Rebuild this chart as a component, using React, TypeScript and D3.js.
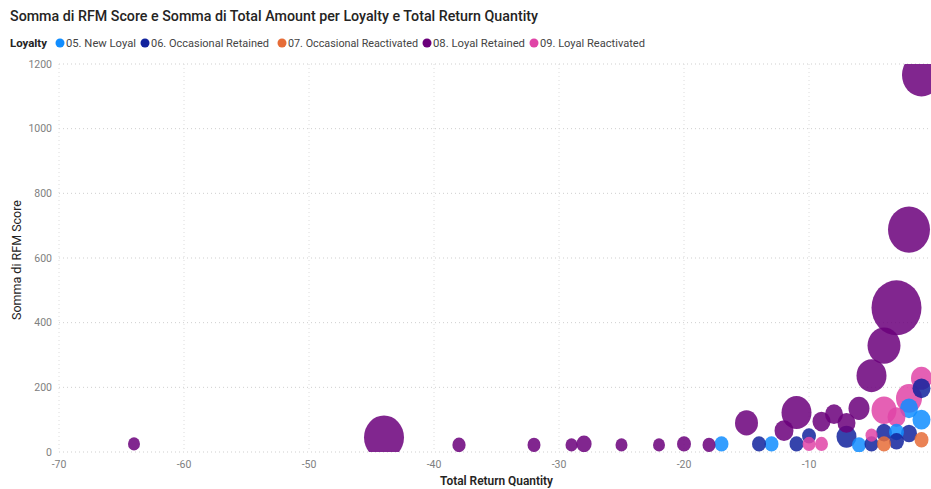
import React from "react";
import * as d3 from "d3";

const W = 931;
const H = 489;

const seriesNames = [
  "05. New Loyal",
  "06. Occasional Retained",
  "07. Occasional Reactivated",
  "08. Loyal Retained",
  "09. Loyal Reactivated",
];
const seriesColors = ["#118DFF", "#12239E", "#E66C37", "#6B007B", "#E044A7"];

// Total Return Quantity / Somma di RFM Score / Somma di Total Amount
const newLoyalX = [-17, -13, -6, -3, -2, -1];
const newLoyalY = [25, 25, 22, 62, 135, 100];
const newLoyalAmt = [4900, 4900, 4900, 5600, 8100, 8100];

const occRetainedX = [-14, -11, -10, -7, -5, -4, -3, -2, -1];
const occRetainedY = [25, 25, 50, 47, 25, 60, 33, 57, 197];
const occRetainedAmt = [4900, 4900, 4900, 10000, 4900, 6400, 5600, 6400, 8100];

const occReactX = [-4, -1];
const occReactY = [25, 38];
const occReactAmt = [4900, 4900];

const loyalRetX = [-64, -44, -38, -32, -29, -28, -25, -22, -20, -18, -15, -12, -11, -9, -8, -7, -6, -5, -4, -3, -2, -1];
const loyalRetY = [25, 45, 22, 22, 22, 25, 22, 22, 25, 22, 90, 66, 122, 94, 117, 90, 135, 236, 329, 446, 688, 1166];
const loyalRetAmt = [3600, 40000, 4400, 4200, 3600, 5800, 3600, 3600, 4900, 4200, 13200, 9000, 22500, 8100, 8100, 8100, 11000, 22500, 27200, 62500, 44100, 38000];

const loyalReactX = [-10, -9, -5, -4, -3, -2, -1];
const loyalReactY = [25, 25, 52, 129, 108, 166, 228];
const loyalReactAmt = [4200, 4200, 3600, 15600, 8100, 16900, 11000];

const xTicks = [-70, -60, -50, -40, -30, -20, -10];
const yTicks = [0, 200, 400, 600, 800, 1000, 1200];

const title = "Somma di RFM Score e Somma di Total Amount per Loyalty e Total Return Quantity";
const legendTitle = "Loyalty";
const xTitle = "Total Return Quantity";
const yTitle = "Somma di RFM Score";

const legendDotX = [60, 145, 282, 427, 534];
const legendTextW = [70, 118, 130, 92, 105];

export default function App() {
  const plot = { left: 59, right: 934, top: 64, bottom: 452 };
  const x = d3.scaleLinear().domain([-70, 0]).range([plot.left, plot.right]);
  const y = d3.scaleLinear().domain([0, 1200]).range([plot.bottom, plot.top]);
  const r = d3.scaleSqrt().domain([0, 62500]).range([0, 25]);

  const raw = [
    [newLoyalX, newLoyalY, newLoyalAmt],
    [occRetainedX, occRetainedY, occRetainedAmt],
    [occReactX, occReactY, occReactAmt],
    [loyalRetX, loyalRetY, loyalRetAmt],
    [loyalReactX, loyalReactY, loyalReactAmt],
  ];
  const points: { s: number; x: number; y: number; a: number }[] = [];
  raw.forEach((arr, s) => {
    arr[0].forEach((xv, i) => points.push({ s, x: xv, y: arr[1][i], a: arr[2][i] }));
  });
  points.sort((p, q) => q.a - p.a);

  const font = "Roboto, 'Open Sans', sans-serif";

  return (
    <div style={{ width: W, height: H }}>
      <style>{`body{margin:0}`}</style>
      <svg width={W} height={H} style={{ display: "block", background: "#fff" }} fontFamily={font}>
        <defs>
          <clipPath id="plotclip">
            <rect x={plot.left} y={plot.top} width={plot.right - plot.left} height={plot.bottom - plot.top} />
          </clipPath>
        </defs>
        <text x={10} y={21} fontSize={14.5} fontWeight={500} fill="#252423" textLength={528} lengthAdjust="spacingAndGlyphs">
          {title}
        </text>
        <text x={10} y={47} fontSize={11.5} fontWeight="bold" fill="#252423" textLength={37} lengthAdjust="spacingAndGlyphs">
          {legendTitle}
        </text>
        {seriesNames.map((n, i) => (
          <g key={n}>
            <circle cx={legendDotX[i]} cy={43} r={4.5} fill={seriesColors[i]} />
            <text x={legendDotX[i] + 6} y={47} fontSize={11.5} fill="#444" textLength={legendTextW[i]} lengthAdjust="spacingAndGlyphs">
              {n}
            </text>
          </g>
        ))}

        {yTicks.map((t) => (
          <g key={"y" + t}>
            <line x1={plot.left} x2={W} y1={y(t)} y2={y(t)} stroke="#cfcfcf" strokeDasharray="1 3" />
            <text x={52} y={y(t)} dy="0.35em" textAnchor="end" fontSize={10.5} fill="#808080">
              {t}
            </text>
          </g>
        ))}
        {xTicks.map((t) => (
          <g key={"x" + t}>
            <line x1={x(t)} x2={x(t)} y1={plot.top} y2={plot.bottom} stroke="#dcdcdc" strokeDasharray="1 3" />
            <text x={x(t)} y={468} textAnchor="middle" fontSize={10.5} fill="#808080">
              {t}
            </text>
          </g>
        ))}

        <g clipPath="url(#plotclip)">
          {points.map((p, i) => (
            <ellipse
              key={i}
              cx={x(p.x)}
              cy={y(p.y)}
              rx={r(p.a)}
              ry={r(p.a) * 1.1}
              fill={seriesColors[p.s]}
              fillOpacity={0.85}
            />
          ))}
        </g>

        <text x={(plot.left + plot.right) / 2} y={485} textAnchor="middle" fontSize={12} fontWeight={600} fill="#252423" textLength={113} lengthAdjust="spacingAndGlyphs">
          {xTitle}
        </text>
        <text
          transform={`translate(21, ${(plot.top + plot.bottom) / 2 + 2}) rotate(-90)`}
          textAnchor="middle"
          fontSize={12}
          fill="#252423"
          textLength={120}
          lengthAdjust="spacingAndGlyphs"
        >
          {yTitle}
        </text>
      </svg>
    </div>
  );
}
